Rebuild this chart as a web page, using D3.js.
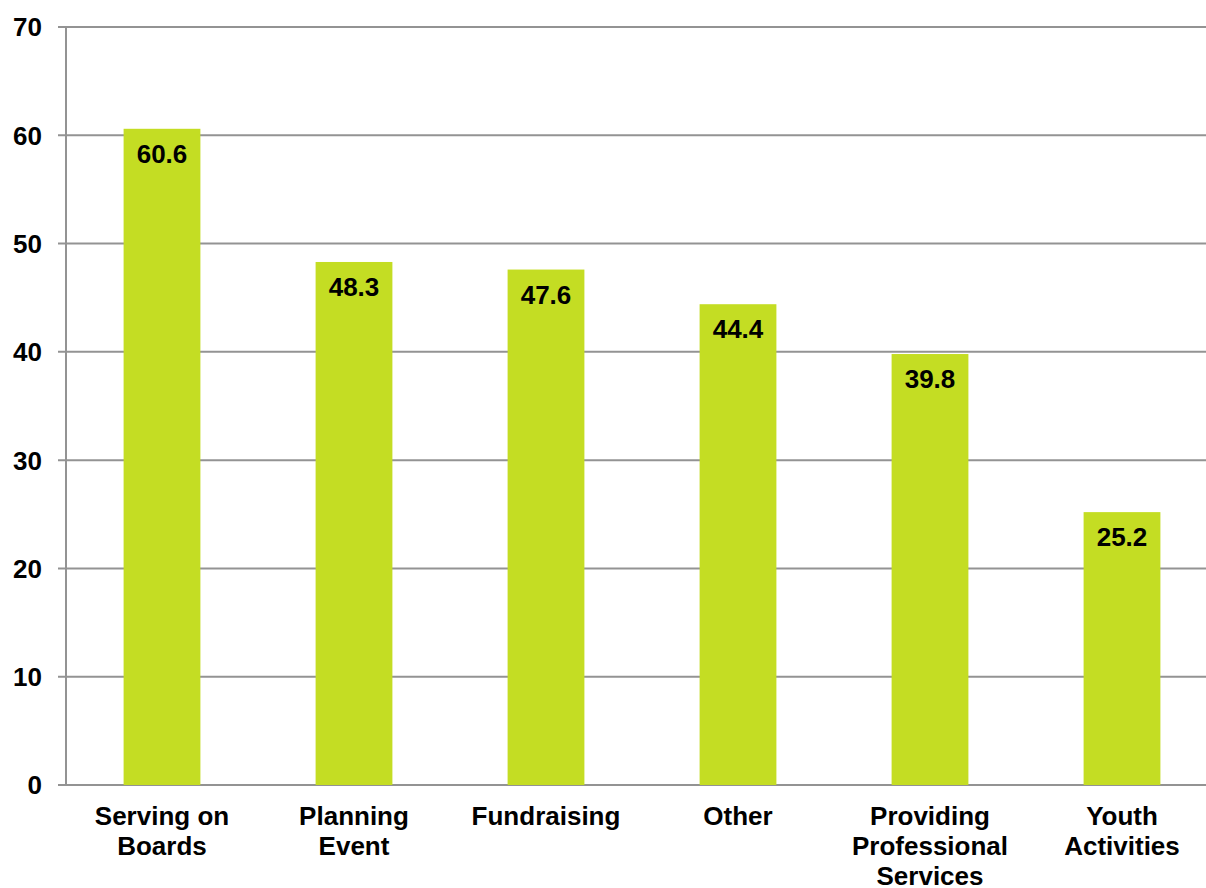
<!DOCTYPE html>
<html><head><meta charset="utf-8">
<script src="https://cdn.jsdelivr.net/npm/d3@7"></script>
<style>html,body{margin:0;padding:0;background:#fff;overflow:hidden}</style>
</head><body>
<svg id="chart" width="1206" height="888"></svg>
<script>
const categories = [["Serving on","Boards"],["Planning","Event"],["Fundraising"],["Other"],["Providing","Professional","Services"],["Youth","Activities"]];
const values = [60.6, 48.3, 47.6, 44.4, 39.8, 25.2];
const yTicks = [0,10,20,30,40,50,60,70];

(function(){
const svg = d3.select("#chart");
const mLeft = 66, mRight = 1218, mTop = 27, mBottom = 785;
const font = "'Liberation Sans', Arial, sans-serif";
const x = d3.scaleBand().domain(d3.range(values.length)).range([mLeft, mRight]).paddingInner(0.6).paddingOuter(0.3);
const y = d3.scaleLinear().domain([0,70]).range([mBottom, mTop]);

// grid
svg.append("g").selectAll("line").data(yTicks).join("line")
  .attr("x1", mLeft - 8).attr("x2", 1206)
  .attr("y1", d => y(d)).attr("y2", d => y(d))
  .attr("stroke", "#939393").attr("stroke-width", 2);

// bars
svg.append("g").selectAll("rect").data(values).join("rect")
  .attr("x", (d,i) => x(i)).attr("width", x.bandwidth())
  .attr("y", d => y(d)).attr("height", d => mBottom - y(d))
  .attr("fill", "#c4dd23");

// y axis line
svg.append("line").attr("x1", mLeft).attr("x2", mLeft).attr("y1", mTop).attr("y2", mBottom + 1)
  .attr("stroke", "#939393").attr("stroke-width", 2);

// y tick labels
svg.append("g").selectAll("text").data(yTicks).join("text")
  .attr("x", 42).attr("y", d => y(d)).attr("dy", "0.36em")
  .attr("text-anchor", "end").attr("font-family", font).attr("font-weight", "bold")
  .attr("font-size", 26).attr("fill", "#000").text(d => d);

// value labels
svg.append("g").selectAll("text").data(values).join("text")
  .attr("x", (d,i) => x(i) + x.bandwidth()/2).attr("y", d => y(d) + 34)
  .attr("text-anchor", "middle").attr("font-family", font).attr("font-weight", "bold")
  .attr("font-size", 26).attr("fill", "#000").text(d => d.toFixed(1));

// category labels
const cg = svg.append("g").selectAll("text").data(categories).join("text")
  .attr("text-anchor", "middle").attr("font-family", font).attr("font-weight", "bold")
  .attr("font-size", 26).attr("fill", "#000");
cg.each(function(lines, i) {
  d3.select(this).selectAll("tspan").data(lines).join("tspan")
    .attr("x", x(i) + x.bandwidth()/2).attr("y", (l, j) => 825 + j * 30).text(l => l);
});
})();
</script>
</body></html>
